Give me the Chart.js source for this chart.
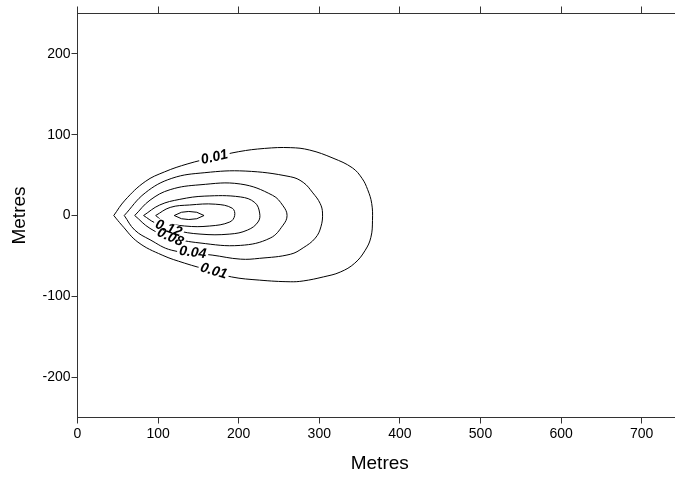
<!DOCTYPE html>
<html>
<head>
<meta charset="utf-8">
<script src="https://cdn.jsdelivr.net/npm/chart.js@4/dist/chart.umd.min.js"></script>
<style>
  html, body { margin: 0; padding: 0; background: #fff; overflow: hidden; }
  #wrap { width: 700px; height: 477px; }
</style>
</head>
<body>
<div id="wrap"><canvas id="plume" width="700" height="477"></canvas></div>
<script>
// Concentration contours of the plume, outlines in metres (downwind x, crosswind y)
const levels = ['0.01', '0.04', '0.08', '0.12', '0.16', '0.20'];

const c001X = [45, 55, 75, 105, 133, 164, 191, 226, 264, 280, 305, 326, 344, 357, 364, 366, 365, 360, 353, 341, 317, 288, 264, 232, 200, 169, 137, 108, 84, 59, 45];
const c001Y = [0, -12, -33, -49, -59, -68, -76, -80, -82, -81, -76, -70, -59, -43, -27, -6, 15, 32, 46, 59, 71, 81, 84, 83, 79, 72, 64, 54, 42, 19, 0];

const c004X = [58, 71, 90, 117, 167, 202, 226, 264, 280, 295, 302, 304, 301, 292, 280, 264, 208, 158, 117, 84, 58];
const c004Y = [0, -18, -30, -43, -49, -54, -53, -48, -40, -28, -14, 3, 15, 28, 41, 48, 55, 53, 46, 28, 0];

const c008X = [71, 90, 115, 152, 202, 239, 255, 260, 255, 242, 202, 152, 115, 90, 71];
const c008Y = [0, -16, -27, -34, -37, -28, -12, 0, 12, 25, 39, 38, 32, 19, 0];

const c012X = [82, 96, 121, 152, 189, 211, 224, 226, 220, 202, 158, 127, 102, 82];
const c012Y = [0, -9, -18, -23, -23, -18, -8, 3, 16, 23, 24, 20, 13, 0];

const c016X = [97, 108, 133, 164, 189, 195, 192, 171, 139, 115, 97];
const c016Y = [0, -8, -13, -13, -8, 0, 9, 14, 13, 10, 0];

const c020X = [120, 129, 138, 148, 157, 148, 138, 129, 120];
const c020Y = [0, -4, -5, -4, 0, 4, 5, 4, 0];

// In-line contour labels: text, the outline they sit on, and the point on it
const labelText = ['0.01', '0.01', '0.04', '0.08', '0.12'];
const labelContour = [0, 0, 1, 2, 3];
const labelX = [170, 169, 143, 115, 113];
const labelY = [72, -69, -46, -27, -16];

// Axis tick values
const xTickValues = [0, 100, 200, 300, 400, 500, 600, 700];
const yTickValues = [-200, -100, 0, 100, 200];

const contours = [
  [c001X, c001Y], [c004X, c004Y], [c008X, c008Y],
  [c012X, c012Y], [c016X, c016Y], [c020X, c020Y]
];

const FONT = '"Liberation Sans", Arial, Helvetica, sans-serif';
const AXIS_COLOR = '#333';

const datasets = contours.map(([xs, ys], i) => ({
  label: levels[i],
  data: xs.map((v, k) => ({ x: v, y: ys[k] })),
  showLine: true,
  borderColor: '#000',
  borderWidth: 1,
  pointRadius: 0,
  pointHoverRadius: 0,
  fill: false,
  tension: i === contours.length - 1 ? 0 : 0.4
}));

// Direction of the outline nearest to a label point, in screen pixels
function outlineAngle(ci, lx, ly, sx, sy) {
  const [xs, ys] = contours[ci];
  const px = sx.getPixelForValue(lx), py = sy.getPixelForValue(ly);
  let best = Infinity, ang = 0;
  for (let k = 0; k < xs.length - 1; k++) {
    const ax = sx.getPixelForValue(xs[k]), ay = sy.getPixelForValue(ys[k]);
    const bx = sx.getPixelForValue(xs[k + 1]), by = sy.getPixelForValue(ys[k + 1]);
    const dx = bx - ax, dy = by - ay;
    const len2 = dx * dx + dy * dy || 1;
    let t = ((px - ax) * dx + (py - ay) * dy) / len2;
    t = Math.max(0, Math.min(1, t));
    const qx = ax + t * dx - px, qy = ay + t * dy - py;
    const d = qx * qx + qy * qy;
    if (d < best) { best = d; ang = Math.atan2(dy, dx); }
  }
  if (ang > Math.PI / 2) ang -= Math.PI;
  if (ang < -Math.PI / 2) ang += Math.PI;
  return ang;
}

const contourLabels = {
  id: 'contourLabels',
  afterDatasetsDraw(chart) {
    const { ctx, scales } = chart;
    const sx = scales.x, sy = scales.y;
    ctx.save();
    ctx.font = 'italic bold 14px ' + FONT;
    ctx.textAlign = 'center';
    ctx.textBaseline = 'middle';
    const items = labelText.map((t, i) => ({
      t,
      px: sx.getPixelForValue(labelX[i]),
      py: sy.getPixelForValue(labelY[i]),
      ang: outlineAngle(labelContour[i], labelX[i], labelY[i], sx, sy)
    }));
    // break the outline under each label
    items.forEach(it => {
      const w = ctx.measureText(it.t).width;
      ctx.save();
      ctx.translate(it.px, it.py);
      ctx.rotate(it.ang);
      ctx.fillStyle = '#fff';
      ctx.fillRect(-w / 2 - 2, -6, w + 4, 12);
      ctx.restore();
    });
    items.forEach(it => {
      ctx.save();
      ctx.translate(it.px, it.py);
      ctx.rotate(it.ang);
      ctx.fillStyle = '#000';
      ctx.fillText(it.t, 0, 0);
      ctx.restore();
    });
    ctx.restore();
  }
};

const tickFont = { family: FONT, size: 14 };
const titleFont = { family: FONT, size: 19 };

new Chart(document.getElementById('plume'), {
  type: 'scatter',
  data: { datasets },
  plugins: [contourLabels],
  options: {
    responsive: false,
    animation: false,
    events: [],
    layout: { padding: { left: 0, top: 0, right: 18, bottom: 0 } },
    plugins: { legend: { display: false }, tooltip: { enabled: false } },
    scales: {
      x: {
        type: 'linear', position: 'bottom', min: 0, max: 750,
        afterBuildTicks: a => { a.ticks = xTickValues.map(v => ({ value: v })); },
        afterFit: a => { a.height = 59.5; },
        ticks: { color: '#000', font: tickFont, padding: 2, maxRotation: 0, autoSkip: false },
        grid: { drawOnChartArea: false, drawTicks: true, tickLength: 6, color: AXIS_COLOR },
        border: { display: true, color: AXIS_COLOR, width: 1 },
        title: { display: true, text: 'Metres', color: '#000', font: titleFont, padding: { top: 0, bottom: 2 } }
      },
      xTop: {
        type: 'linear', position: 'top', min: 0, max: 750,
        afterBuildTicks: a => { a.ticks = xTickValues.map(v => ({ value: v })); },
        afterFit: a => { a.height = 13.5; },
        ticks: { display: false },
        grid: { drawOnChartArea: false, drawTicks: true, tickLength: 7, color: AXIS_COLOR },
        border: { display: true, color: AXIS_COLOR, width: 1 }
      },
      y: {
        type: 'linear', position: 'left', min: -250, max: 250,
        afterBuildTicks: a => { a.ticks = yTickValues.map(v => ({ value: v })); },
        afterFit: a => { a.width = 77.5; },
        ticks: { color: '#000', font: tickFont, padding: 1, autoSkip: false },
        grid: { drawOnChartArea: false, drawTicks: true, tickLength: 6, color: AXIS_COLOR },
        border: { display: true, color: AXIS_COLOR, width: 1 },
        title: { display: true, text: 'Metres', color: '#000', font: titleFont, padding: { top: 8, bottom: 0 } }
      }
    }
  }
});
</script>
</body>
</html>
